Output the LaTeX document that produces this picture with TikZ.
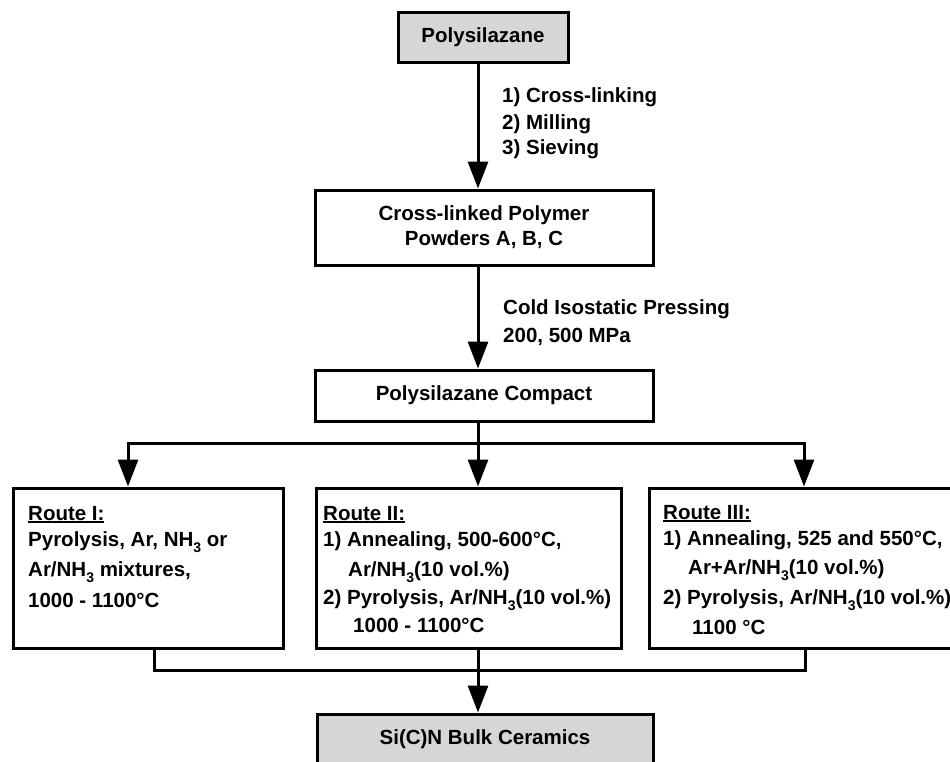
\documentclass[tikz,border=0pt]{standalone}
\usepackage{fontspec}
\setmainfont{Liberation Sans}
\usetikzlibrary{arrows.meta}
\newcommand{\sbt}[1]{\raisebox{-0.32em}{\fontsize{14}{14}\selectfont #1}}
\newcommand{\uln}[1]{\setbox0\hbox{#1}\rlap{\rule[-3.2pt]{\wd0}{1.8pt}}\box0}
\definecolor{boxgray}{RGB}{214,214,214}
\begin{document}
\begin{tikzpicture}[x=1pt,y=-1pt,
  box/.style={draw, line width=3pt, rectangle, inner sep=0pt, align=center,
    font=\fontsize{20.5}{25}\selectfont\bfseries},
  gbox/.style={box, fill=boxgray},
  arr/.style={line width=3pt, -{Triangle[length=27pt,width=20pt]}},
  ln/.style={line width=3pt},
  txt/.style={anchor=base west, inner sep=0pt, font=\fontsize{20.5}{25}\selectfont\bfseries},
  ctxt/.style={inner sep=0pt, font=\fontsize{20.5}{25}\selectfont\bfseries}]
\useasboundingbox (0,0) rectangle (950,761);
\begin{scope}
\clip (0,0) rectangle (950,761);
\fill[white] (0,0) rectangle (950,761);
% boxes
\node[gbox, minimum width=170, minimum height=50] (poly) at (483,37) {Polysilazane};
\node[box, minimum width=338, minimum height=75] (cross) at (484,227.5) {Cross-linked Polymer\\Powders A, B, C};
\node[box, minimum width=338, minimum height=51] (comp) at (484,395.5) {Polysilazane Compact};
\node[box, minimum width=270, minimum height=160] (r1) at (148,568) {};
\node[box, minimum width=305, minimum height=160] (r2) at (468.5,568) {};
\node[box, minimum width=311, minimum height=160] (r3) at (804.5,568) {};
\node[gbox, minimum width=336, minimum height=60] (sicn) at (485,744) {};
\node[ctxt] (sicnt) at (485,739) {Si(C)N Bulk Ceramics};
% helper coordinates
\coordinate (sp) at (478,443);
\coordinate (bl) at (128,443);
\coordinate (br) at (804,443);
\coordinate (jl) at (154,670);
\coordinate (jr) at (805,670);
\coordinate (jm) at (478,670);
% connectors
\draw[arr] (poly.south -| sp) -- (cross.north -| sp);
\draw[arr] (cross.south -| sp) -- (comp.north -| sp);
\draw[arr] (comp.south -| sp) -- (sp) -| (r1.north -| bl);
\draw[arr] (sp) -- (r2.north -| sp);
\draw[arr] (sp) -| (r3.north -| br);
\draw[ln] (r1.south -| jl) |- (jr) -- (r3.south -| jr);
\draw[arr] (r2.south -| jm) -- (sicn.north -| jm);
% labels on arrows
\node[txt] (l1) at (502,102) {1) Cross-linking};
\node[txt] (l2) at (502,129) {2) Milling};
\node[txt] (l3) at (502,154) {3) Sieving};
\node[txt] (l4) at (503,314) {Cold Isostatic Pressing};
\node[txt] (l5) at (503,342) {200, 500 MPa};
% Route I
\node[txt] (r1a) at (28,520) {\uln{Route I:}};
\node[txt] (r1b) at (28,546) {Pyrolysis, Ar, NH\sbt{3} or};
\node[txt] (r1c) at (28,576) {Ar/NH\sbt{3} mixtures,};
\node[txt] (r1d) at (28,607) {1000 - 1100°C};
% Route II
\node[txt] (r2a) at (323,520) {\uln{Route II:}};
\node[txt] (r2b) at (323,546) {1) Annealing, 500-600°C,};
\node[txt] (r2c) at (348,576) {Ar/NH\sbt{3}(10 vol.\%)};
\node[txt] (r2d) at (323,604) {2) Pyrolysis, Ar/NH\sbt{3}(10 vol.\%)};
\node[txt] (r2e) at (353,632) {1000 - 1100°C};
% Route III
\node[txt] (r3a) at (663,519) {\uln{Route III:}};
\node[txt] (r3b) at (663,545) {1) Annealing, 525 and 550°C,};
\node[txt] (r3c) at (688,574) {Ar+Ar/NH\sbt{3}(10 vol.\%)};
\node[txt] (r3d) at (663,604) {2) Pyrolysis, Ar/NH\sbt{3}(10 vol.\%)};
\node[txt] (r3e) at (692,634) {1100 °C};
\end{scope}
\end{tikzpicture}
\end{document}
